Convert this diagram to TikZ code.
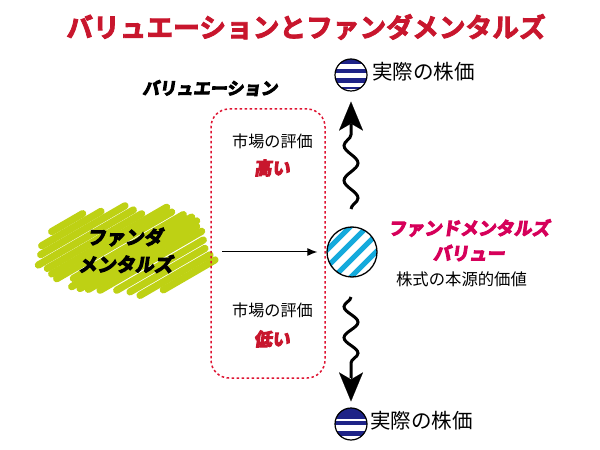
\documentclass[tikz,border=0pt]{standalone}
\usepackage{fontspec}
\setmainfont{Noto Sans CJK JP}
\newfontfamily\titlefont[FakeBold=3]{Noto Sans CJK JP Bold}
\newfontfamily\headfont[FakeSlant=0.14,FakeBold=6]{Noto Sans CJK JP Bold}
\newfontfamily\plainfont{Noto Sans CJK JP}
\usetikzlibrary{arrows.meta,decorations.pathmorphing}
\definecolor{headred}{RGB}{200,22,45}
\definecolor{dotred}{RGB}{222,20,50}
\definecolor{fundpink}{RGB}{214,0,90}
\definecolor{scribgreen}{RGB}{190,209,20}
\definecolor{stripeblue}{RGB}{30,35,135}
\definecolor{stripecyan}{RGB}{20,170,220}
\tikzset{
  headtext/.style={inner sep=0pt,font=\headfont\fontsize{#1}{#1}\selectfont},
  plaintext/.style={inner sep=0pt,font=\plainfont\fontsize{#1}{#1}\selectfont},
  priceball/.style={circle,draw=black,line width=1.2bp,minimum size=32bp,inner sep=0pt},
  wave/.style={line width=3bp,decorate,decoration={snake,segment length=#1,amplitude=-7bp}},
  bighead/.style={line width=0.1bp,-{Stealth[length=29bp,width=24bp,inset=7bp]}},
}
\begin{document}
\begin{tikzpicture}[x=1bp,y=-1bp]
  \useasboundingbox (0,0) rectangle (600,450);
  % scribble behind the left label
  \foreach \c/\xa/\xb in {180/95/188,205/65/243,230/62/315,257/55/340,283/82/365,307/95/440,
      330/110/455,358/160/490,380/155/515,400/180/530,417/205/530,440/240/545,
      469/290/550,497/330/555,525/360/570,549/430/585}
    \draw [scribgreen,line width=7.2bp,line cap=round]
      (20+\xa/3,190+\c/3-0.58*\xa/3) -- (20+\xb/3,190+\c/3-0.58*\xb/3);
  % Node: title
  \node [inner sep=0pt,font=\titlefont\fontsize{26.8}{26.8}\selectfont,headred] (title) at (306,27) {バリュエーションとファンダメンタルズ};
  \node [headtext=17] (valuation) at (210,88) {バリュエーション};
  % Node: band
  \node [draw=dotred,line width=1.5bp,dash pattern=on 2.5bp off 2.5bp,rounded corners=18bp,
    minimum width=114bp,minimum height=269bp,inner sep=0pt] (band) at (268,243.5) {};
  \node [plaintext=16.2] (markethigh) at (272.5,141) {市場の評価};
  \node [headtext=18,headred] (high) at (272,168) {高い};
  \node [plaintext=16.2] (marketlow) at (272.5,310) {市場の評価};
  \node [headtext=18,headred] (low) at (272,339) {低い};
  % Node: fundamentals
  \node [headtext=19] (fundaone) at (125,237) {ファンダ};
  \node [headtext=19] (fundatwo) at (125.5,264) {メンタルズ};
  \node [circle,draw=black,line width=1.3bp,minimum size=50bp,inner sep=0pt,path picture={
      \foreach \k in {-27,-10,7,24}
        \draw [stripecyan,line width=5bp] (\k-40,40) -- (\k+40,-40);
    }] (fund) at (352,252) {};
  \node [headtext=18,fundpink] (fundvalue) at (469,228) {ファンドメンタルズ};
  \node [headtext=18,fundpink] (value) at (469,253) {バリュー};
  \node [plaintext=16.4] (intrinsic) at (461.5,279) {株式の本源的価値};
  % Node: price balls
  \node [priceball,path picture={
      \fill [stripeblue] (-17,-17) rectangle (17,-11);
      \fill [stripeblue] (-17,-6) rectangle (17,-2);
      \fill [stripeblue] (-17,3) rectangle (17,8);
      \fill [stripeblue] (-17,12) rectangle (17,14);
    }] (upper) at (351,75) {};
  \node [plaintext=20.6,anchor=west] (upperprice) at (372,72) {実際の株価};
  \node [priceball,path picture={
      \fill [stripeblue] (-17,-17) rectangle (17,-5);
      \fill [stripeblue] (-17,-3) rectangle (17,1);
      \fill [stripeblue] (-17,7) rectangle (17,12);
    }] (lower) at (351,424) {};
  \node [plaintext=20.6,anchor=west] (lowerprice) at (370,421) {実際の株価};
  % Edge: funda -> fund
  \coordinate (fundafoot) at (222,252);
  \draw [line width=1bp,shorten >=9bp,-{Latex[length=10bp,width=8bp]}] (fundafoot) -- (fund);
  % Edge: fund -> upper
  \coordinate (risefoot) at (351,209);
  \coordinate (risetop) at (351,124);
  \draw [wave=35bp] (risefoot) -- (risetop);
  \draw [bighead,shorten >=10bp] (risetop) -- (upper);
  % Edge: fund -> lower
  \coordinate (fallfoot) at (351,297);
  \coordinate (falltop) at (351,378);
  \draw [wave=31bp] (fallfoot) -- (falltop);
  \draw [bighead,shorten >=6bp] (falltop) -- (lower);
\end{tikzpicture}
\end{document}
